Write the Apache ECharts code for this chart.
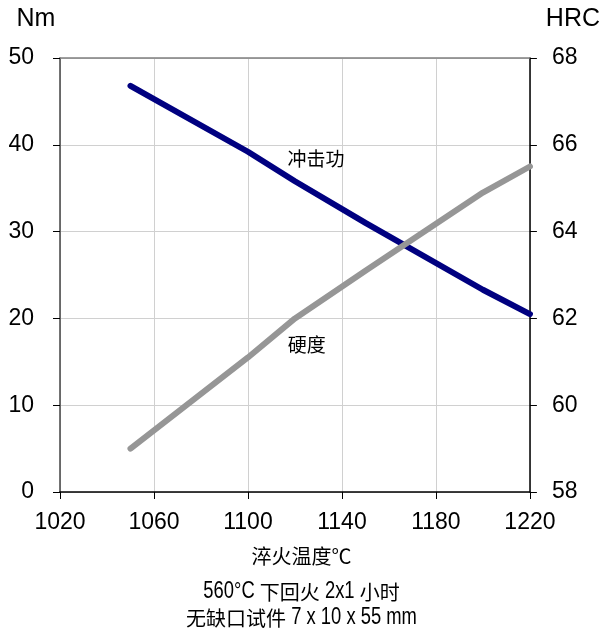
<!doctype html>
<html>
<head>
    <meta charset="utf-8">
    <title>淬火温度</title>
    <script src="https://cdn.jsdelivr.net/npm/echarts@6/dist/echarts.min.js"></script>
</head>
<style>
    html, body { margin: 0; padding: 0; background: #fff; }
    #main { width: 603px; height: 631px; }
</style>
<body>
<div id="main"></div>
<script>
  // quench temperature (°C)
  var temps = [1050, 1100, 1120, 1150, 1200, 1220];
  // impact energy, Nm (left axis)
  var impact = [46.8, 39.2, 35.8, 31.0, 23.3, 20.5];
  // hardness, HRC (right axis)
  var hardness = [59.0, 61.1, 62.0, 63.1, 64.9, 65.5];

  var impactLabel = ['冲击功', 1129, 38.4];
  var hardLabel = ['硬度', 1125, 61.4];
  var notes = ['淬火温度℃', '560°C 下回火 2x1 小时', '无缺口试件 7 x 10 x 55 mm'];
  var noteMids = [556, 592, 618];

  function pairs(xs, ys) {
    return xs.map(function (x, i) { return [x, ys[i]]; });
  }

  var font = '"Liberation Sans", Arial, sans-serif';
  var cjk = '"Noto Sans CJK SC", sans-serif';
  var cjkSize = 20, latinSize = 23, latinSquash = 0.8;

  // the notes use a condensed latin face; fake it by squashing latin runs
  var ctx = document.createElement('canvas').getContext('2d');
  function noteLine(t, mid) {
    var runs = t.match(/[\u2103\u4e00-\u9fff]+|[^\u2103\u4e00-\u9fff]+/g);
    var kids = [], x = 0;
    runs.forEach(function (r) {
      var isCjk = /[\u2103\u4e00-\u9fff]/.test(r);
      var f = (isCjk ? cjkSize : latinSize) + 'px ' + (isCjk ? cjk : font);
      ctx.font = f;
      var sx = isCjk ? 1 : latinSquash;
      kids.push({
        type: 'text', x: x, y: 0, scaleX: sx,
        style: { text: r, font: f, fill: '#000', verticalAlign: 'middle' }
      });
      x += ctx.measureText(r).width * sx;
    });
    return { type: 'group', x: (603 - x) / 2, y: mid, children: kids };
  }

  var chart = echarts.init(document.getElementById('main'));

  var labelPoint = function (lbl) {
    return {
      symbol: 'rect',
      symbolSize: 1,
      itemStyle: { color: 'rgba(0,0,0,0)' },
      data: [{ coord: [lbl[1], lbl[2]], value: lbl[0] }],
      label: { show: true, position: 'inside', formatter: '{c}', color: '#000', fontSize: 19, fontFamily: cjk }
    };
  };

  chart.setOption({
    animation: false,
    grid: { left: 60, right: 73, top: 58, bottom: 139 },
    xAxis: [
      {
        type: 'value',
        min: 1020,
        max: 1220,
        interval: 40,
        axisLine: { show: true, lineStyle: { color: '#000', width: 1.5 } },
        axisTick: { show: true, length: 7, lineStyle: { color: '#000' } },
        axisLabel: {
          margin: 19, fontSize: 23, color: '#000', fontFamily: font,
          formatter: function (v) { return String(v); }
        },
        splitLine: { show: true, lineStyle: { color: '#d0d0d0', width: 1 } }
      },
      {
        type: 'value',
        position: 'top',
        min: 1020,
        max: 1220,
        axisLine: { show: true, lineStyle: { color: '#808080', width: 1.5 } },
        axisTick: { show: false },
        axisLabel: { show: false },
        splitLine: { show: false }
      }
    ],
    yAxis: [
      {
        type: 'value',
        min: 0,
        max: 50,
        interval: 10,
        name: 'Nm',
        nameLocation: 'end',
        nameGap: 26,
        nameTextStyle: { fontSize: 25, color: '#000', fontFamily: font, padding: [0, 48, 0, 0] },
        axisLine: { show: true, lineStyle: { color: '#444', width: 1.5 } },
        axisTick: { show: true, length: 7, lineStyle: { color: '#000' } },
        axisLabel: { margin: 26, fontSize: 23, color: '#000', fontFamily: font },
        splitLine: { show: true, lineStyle: { color: '#d0d0d0', width: 1 } }
      },
      {
        type: 'value',
        min: 58,
        max: 68,
        interval: 2,
        name: 'HRC',
        nameLocation: 'end',
        nameGap: 26,
        nameTextStyle: { fontSize: 25, color: '#000', fontFamily: font, padding: [0, 0, 0, 86] },
        axisLine: { show: true, lineStyle: { color: '#000', width: 1.5 } },
        axisTick: { show: true, length: 7, lineStyle: { color: '#000' } },
        axisLabel: { margin: 22, fontSize: 23, color: '#000', fontFamily: font },
        splitLine: { show: false }
      }
    ],
    series: [
      {
        name: '冲击功',
        type: 'line',
        yAxisIndex: 0,
        data: pairs(temps, impact),
        symbol: 'none',
        lineStyle: { color: '#000080', width: 6, cap: 'round' },
        markPoint: labelPoint(impactLabel)
      },
      {
        name: '硬度',
        type: 'line',
        yAxisIndex: 1,
        data: pairs(temps, hardness),
        symbol: 'none',
        lineStyle: { color: '#969696', width: 6, cap: 'round' },
        markPoint: labelPoint(hardLabel)
      }
    ],
    graphic: notes.map(function (t, i) { return noteLine(t, noteMids[i]); })
  });
</script>
</body>
</html>
